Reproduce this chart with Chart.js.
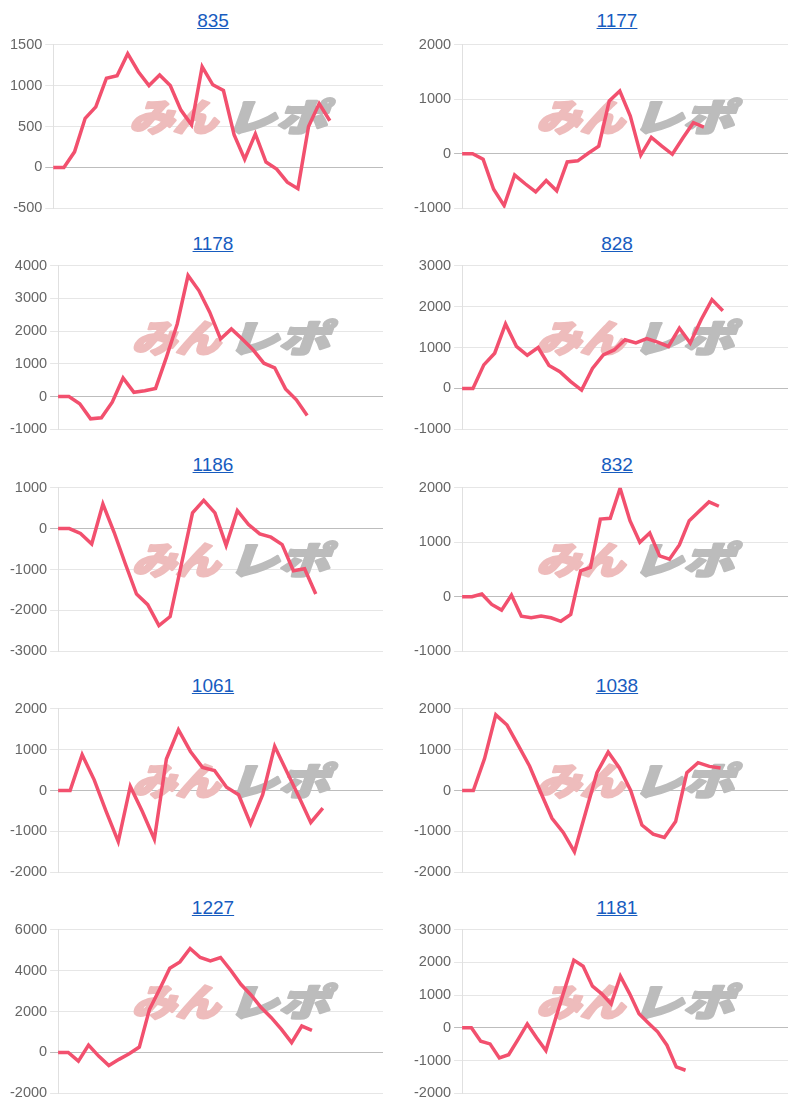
<!DOCTYPE html>
<html lang="ja">
<head>
<meta charset="utf-8">
<title>差枚グラフ</title>
<script src="https://cdn.jsdelivr.net/npm/chart.js@4.4.1/dist/chart.umd.min.js"></script>
<style>
    html, body { margin: 0; padding: 0; background: #fff; overflow: hidden; }
    body { width: 812px; height: 1110px; position: relative; font-family: "Liberation Sans", Arial, sans-serif; }
    .titulo { position: absolute; width: 200px; text-align: center; font-size: 19px; line-height: 22px; }
    .titulo a { color: #175cbf; text-decoration: underline; }
    .caja { position: absolute; }
</style>
</head>
<body>
<div id="grafs"></div>
<script>
// 台番号
const titulos = ['835', '1177', '1178', '828', '1186', '832', '1061', '1038', '1227', '1181'];
// 横軸の点の数（グラフごと）
const numEtiquetas = [32, 32, 31, 31, 30, 34, 28, 30, 33, 36];

// 差枚の推移
const s835 = [0, 0, 190, 600, 740, 1090, 1120, 1390, 1170, 1000, 1130, 1000, 700, 520, 1230, 1010, 940, 400, 100, 410, 65, -20, -180, -260, 500, 780, 570];
const s1177 = [0, 0, -100, -650, -950, -390, -550, -700, -490, -680, -150, -130, 10, 140, 970, 1150, 690, -25, 300, 140, -10, 290, 570, 490];
const s1178 = [0, 0, -220, -680, -650, -170, 570, 130, 180, 250, 1200, 2220, 3700, 3240, 2580, 1760, 2070, 1760, 1430, 1020, 880, 235, -100, -580];
const s828 = [0, 0, 575, 860, 1575, 1030, 810, 1000, 560, 410, 165, -40, 490, 820, 940, 1190, 1110, 1215, 1130, 1025, 1475, 1110, 1680, 2170, 1900];
const s1186 = [0, 0, -120, -375, 600, -90, -860, -1600, -1860, -2370, -2150, -880, 385, 690, 385, -410, 440, 100, -130, -210, -390, -1030, -980, -1600];
const s832 = [0, 0, 50, -140, -245, 30, -355, -385, -355, -385, -450, -325, 475, 540, 1425, 1440, 1990, 1395, 1000, 1170, 750, 690, 950, 1395, 1570, 1740, 1660];
const s1061 = [0, 0, 875, 260, -515, -1250, 100, -515, -1190, 770, 1485, 955, 565, 490, 80, -105, -815, -105, 1080, 465, -145, -780, -430];
const s1038 = [0, 0, 780, 1850, 1600, 1105, 600, -50, -680, -1025, -1500, -530, 435, 940, 550, 0, -845, -1065, -1150, -760, 435, 680, 590, 550];
const s1227 = [0, 0, -425, 360, -180, -640, -340, -65, 260, 2105, 3090, 4115, 4425, 5080, 4640, 4475, 4640, 4020, 3330, 2810, 2190, 1700, 1125, 475, 1290, 1080];
const s1181 = [0, 0, -410, -490, -920, -820, -360, 120, -305, -695, 250, 1170, 2070, 1885, 1275, 1040, 735, 1580, 1040, 430, 150, -120, -530, -1195, -1295];
const series = [s835, s1177, s1178, s828, s1186, s832, s1061, s1038, s1227, s1181];

// 縦軸の目盛り
const yMin = [-500, -1000, -1000, -1000, -3000, -1000, -2000, -2000, -2000, -2000];
const yMax = [1500, 2000, 4000, 3000, 1000, 2000, 2000, 2000, 6000, 3000];
const yPaso = [500, 1000, 1000, 1000, 1000, 1000, 1000, 1000, 2000, 1000];

// 透かしロゴ
const marcaAgua = {
    id: 'marcaAgua',
    beforeDatasetsDraw(chart) {
        const { left, right, top } = chart.chartArea;
        const ctx = chart.ctx;
        const cx = (left + right) / 2 + 14;
        const cy = top + 72;
        ctx.save();
        ctx.translate(cx, cy);
        ctx.transform(1, 0, -0.3, 0.85, 0, 0);
        ctx.font = '900 44px "Noto Sans CJK JP"';
        ctx.textBaseline = 'middle';
        ctx.lineJoin = 'round';
        ctx.lineWidth = 3;
        ctx.fillStyle = ctx.strokeStyle = '#eebcbc';
        ctx.strokeText('みん', -98, 0);
        ctx.fillText('みん', -98, 0);
        ctx.save();
        ctx.translate(-2, 0);
        ctx.scale(1.15, 1);
        ctx.fillStyle = ctx.strokeStyle = '#bcbcbc';
        ctx.strokeText('レポ', 0, 0);
        ctx.fillText('レポ', 0, 0);
        ctx.restore();
        ctx.restore();
    }
};

const cont = document.getElementById('grafs');
const paso = 221.3;

series.forEach((datos, i) => {
    const col = i % 2;
    const fila = Math.floor(i / 2);
    const izq = col === 0 ? 7 : 411;
    const ancho = col === 0 ? 379 : 380;
    const centro = col === 0 ? 213 : 617;

    const t = document.createElement('div');
    t.className = 'titulo';
    t.style.left = (centro - 100) + 'px';
    t.style.top = (10 + fila * paso + (fila > 0 ? 1.5 : 0)) + 'px';
    t.innerHTML = '<a href="#">' + titulos[i] + '</a>';
    cont.appendChild(t);

    const caja = document.createElement('div');
    caja.className = 'caja';
    caja.style.left = izq + 'px';
    caja.style.top = (33 + fila * paso) + 'px';
    caja.style.width = ancho + 'px';
    caja.style.height = '187px';
    const cv = document.createElement('canvas');
    caja.appendChild(cv);
    cont.appendChild(caja);

    const etiquetas = Array.from({ length: numEtiquetas[i] }, (_, k) => String(k + 1));

    new Chart(cv, {
        type: 'line',
        data: {
            labels: etiquetas,
            datasets: [{
                label: titulos[i],
                data: datos,
                borderColor: '#f2506e',
                backgroundColor: '#f2506e',
                borderWidth: 3.5,
                pointRadius: 0,
                tension: 0,
                fill: false
            }]
        },
        options: {
            responsive: true,
            maintainAspectRatio: false,
            animation: false,
            layout: { padding: { right: 3 } },
            plugins: {
                legend: { display: false },
                tooltip: { enabled: true }
            },
            scales: {
                x: { display: false },
                y: {
                    min: yMin[i],
                    max: yMax[i],
                    ticks: {
                        stepSize: yPaso[i],
                        color: '#666',
                        font: { size: 14.5, family: '"Liberation Sans", Arial, sans-serif' },
                        callback: v => String(v)
                    },
                    grid: {
                        color: c => c.tick && c.tick.value === 0 ? '#bdbdbd' : '#e6e6e6'
                    },
                    border: { color: '#e0e0e0' }
                }
            }
        },
        plugins: [marcaAgua]
    });
});
</script>
</body>
</html>
